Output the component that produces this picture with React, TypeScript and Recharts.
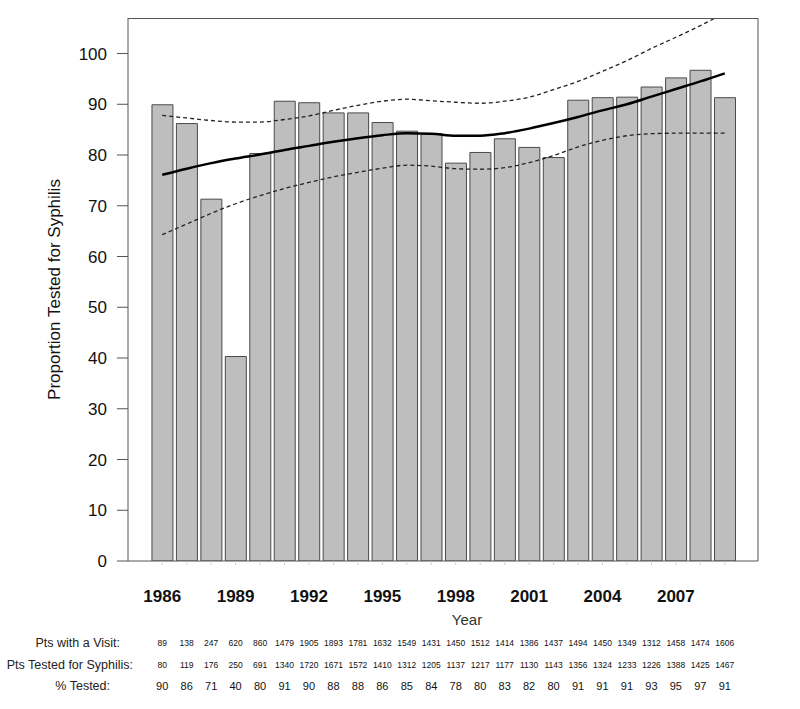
import {
  ComposedChart,
  Bar,
  Line,
  XAxis,
  YAxis,
} from "recharts";

const years = [
  "1986", "1987", "1988", "1989", "1990", "1991", "1992", "1993", "1994", "1995", "1996", "1997",
  "1998", "1999", "2000", "2001", "2002", "2003", "2004", "2005", "2006", "2007", "2008", "2009",
];
const yearTicks = ["1986", "1989", "1992", "1995", "1998", "2001", "2004", "2007"];
const yTicks = [0, 10, 20, 30, 40, 50, 60, 70, 80, 90, 100];

const visits = [89, 138, 247, 620, 860, 1479, 1905, 1893, 1781, 1632, 1549, 1431, 1450, 1512, 1414, 1386, 1437, 1494, 1450, 1349, 1312, 1458, 1474, 1606];
const tested = [80, 119, 176, 250, 691, 1340, 1720, 1671, 1572, 1410, 1312, 1205, 1137, 1217, 1177, 1130, 1143, 1356, 1324, 1233, 1226, 1388, 1425, 1467];
const pctLabels = [90, 86, 71, 40, 80, 91, 90, 88, 88, 86, 85, 84, 78, 80, 83, 82, 80, 91, 91, 91, 93, 95, 97, 91];

// bar heights
const pct = [89.9, 86.2, 71.3, 40.3, 80.3, 90.6, 90.3, 88.3, 88.3, 86.4, 84.7, 84.2, 78.4, 80.5, 83.2, 81.5, 79.5, 90.8, 91.3, 91.4, 93.4, 95.2, 96.7, 91.3];
// smoother fit and its dashed band
const fit = [76.1, 77.3, 78.4, 79.3, 80.1, 81.0, 81.8, 82.6, 83.3, 83.9, 84.3, 84.2, 83.8, 83.8, 84.3, 85.2, 86.3, 87.5, 88.8, 90.0, 91.5, 93.0, 94.5, 96.1];
const upper = [87.8, 87.3, 86.8, 86.5, 86.5, 87.0, 87.7, 88.8, 89.8, 90.6, 91.0, 90.7, 90.4, 90.2, 90.6, 91.4, 92.9, 94.5, 96.5, 98.6, 101.0, 103.2, 105.5, 108.0];
const lower = [64.3, 66.4, 68.5, 70.4, 72.0, 73.4, 74.6, 75.7, 76.6, 77.4, 78.0, 77.8, 77.3, 77.2, 77.5, 78.5, 79.9, 81.6, 82.9, 83.8, 84.2, 84.3, 84.3, 84.3];

const Y_MAX = 107;
const FRAME_TOP = 18;
const FRAME_LEFT = 128;
const FRAME_RIGHT = 758;
const Y_AXIS_W = 60;

const data = years.map((year, i) => ({
  year,
  pct: pct[i],
  fit: fit[i],
  upper: upper[i],
  lower: lower[i],
}));

const FONT = "'Liberation Sans', Arial, Helvetica, sans-serif";
const PAD = { left: 22, right: 21 };

const YearTick = (props: any) => {
  const { x, y, payload } = props;
  const label = String(payload.value);
  return (
    <g>
      <line x1={x} x2={x} y1={y} y2={y + 4} stroke="#d4d4d4" />
      {yearTicks.includes(label) && (
        <text x={x} y={y + 41} textAnchor="middle" fontFamily={FONT} fontSize={17} fontWeight="bold" fill="#111">
          {label}
        </text>
      )}
    </g>
  );
};

const makeRowTick = (values: number[], size: number) => (props: any) => {
  const { x, y, payload } = props;
  const i = years.indexOf(String(payload.value));
  return (
    <text x={x} y={y + 11} dominantBaseline="central" textAnchor="middle" fontFamily={FONT} fontSize={size} fill="#111">
      {values[i]}
    </text>
  );
};

const rowLabel = (text: string, dx: number) => (props: any) => {
  const vb = props.viewBox;
  return (
    <text x={vb.x + dx} y={vb.y + 11} dominantBaseline="central" textAnchor="end" fontFamily={FONT} fontSize={12.5} fill="#222">
      {text}
    </text>
  );
};

const YTitle = (p: any) => {
  const vb = p.viewBox;
  const cx = vb.x - 14;
  const cy = vb.y + vb.height / 2;
  return (
    <text
      x={cx}
      y={cy}
      transform={`rotate(-90 ${cx} ${cy})`}
      textAnchor="middle"
      dominantBaseline="central"
      fontFamily={FONT}
      fontSize={17}
      fill="#111"
    >
      Proportion Tested for Syphilis
    </text>
  );
};

export default function App() {
  return (
    <div style={{ position: "absolute", left: 0, top: 0, width: 800, height: 709, background: "#fff" }}>
      <ComposedChart
        width={800}
        height={709}
        data={data}
        margin={{ top: FRAME_TOP, right: 41, bottom: 12, left: FRAME_LEFT - Y_AXIS_W }}
        barCategoryGap="8%"
      >
        {/* bottom axes are stacked by id order, nearest the plot first */}
        <XAxis
          xAxisId="a_years"
          dataKey="year"
          height={71}
          interval={0}
          tickSize={0}
          tickMargin={0}
          tickLine={false}
          stroke="#555"
          padding={PAD}
          tick={<YearTick />}
          label={{
            content: (p: any) => (
              <text x={467} y={p.viewBox.y + 64} textAnchor="middle" fontFamily={FONT} fontSize={15} fill="#333">
                Year
              </text>
            ),
          }}
        />
        <XAxis
          xAxisId="b_visits"
          dataKey="year"
          height={22}
          interval={0}
          tickSize={0}
          tickMargin={0}
          tickLine={false}
          axisLine={false}
          padding={PAD}
          tick={makeRowTick(visits, 8.5)}
          label={{ content: rowLabel("Pts with a Visit:", -8) }}
        />
        <XAxis
          xAxisId="c_tested"
          dataKey="year"
          height={21}
          interval={0}
          tickSize={0}
          tickMargin={0}
          tickLine={false}
          axisLine={false}
          padding={PAD}
          tick={makeRowTick(tested, 8.5)}
          label={{ content: rowLabel("Pts Tested for Syphilis:", 5) }}
        />
        <XAxis
          xAxisId="d_pct"
          dataKey="year"
          height={22}
          interval={0}
          tickSize={0}
          tickMargin={0}
          tickLine={false}
          axisLine={false}
          padding={PAD}
          tick={makeRowTick(pctLabels, 11)}
          label={{ content: rowLabel("% Tested:", -18) }}
        />
        <YAxis
          yAxisId="left"
          width={Y_AXIS_W}
          domain={[0, Y_MAX]}
          ticks={yTicks}
          allowDataOverflow
          stroke="#555"
          tickSize={11}
          tickMargin={10}
          tick={{ fontSize: 17, fill: "#111", fontFamily: FONT }}
          label={{ content: YTitle }}
        />
        <YAxis yAxisId="right" orientation="right" width={1} domain={[0, Y_MAX]} tick={false} tickLine={false} stroke="#555" />
        <Bar xAxisId="a_years" yAxisId="left" dataKey="pct" fill="#bebebe" stroke="#4a4a4a" strokeWidth={1} isAnimationActive={false} />
        <Line xAxisId="a_years" yAxisId="left" type="monotone" dataKey="upper" stroke="#222" strokeWidth={1.3} strokeDasharray="4 3" dot={false} activeDot={false} isAnimationActive={false} />
        <Line xAxisId="a_years" yAxisId="left" type="monotone" dataKey="lower" stroke="#222" strokeWidth={1.3} strokeDasharray="4 3" dot={false} activeDot={false} isAnimationActive={false} />
        <Line xAxisId="a_years" yAxisId="left" type="monotone" dataKey="fit" stroke="#000" strokeWidth={2.5} dot={false} activeDot={false} isAnimationActive={false} />
      </ComposedChart>
      {/* top edge of the plot frame */}
      <div
        style={{
          position: "absolute",
          left: FRAME_LEFT,
          top: FRAME_TOP,
          width: FRAME_RIGHT - FRAME_LEFT,
          height: 0,
          borderTop: "1px solid #555",
          pointerEvents: "none",
        }}
      />
    </div>
  );
}
